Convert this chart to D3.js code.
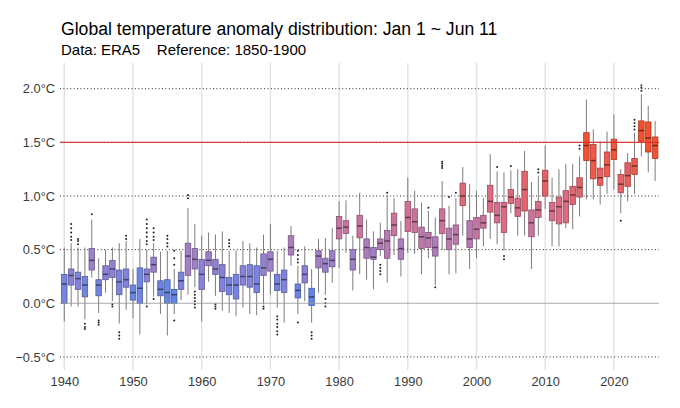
<!DOCTYPE html>
<html>
<head>
<meta charset="utf-8">
<script src="https://cdn.jsdelivr.net/npm/d3@7"></script>
<style>
  body { margin: 0; background: #fff; }
  svg { font-family: "Liberation Sans", Arial, sans-serif; }
</style>
</head>
<body>
<svg id="chart" width="680" height="408"></svg>
<script>
// one box per year, Jan 1 ~ Jun 11 daily anomalies (deg C vs 1850-1900)
const years = d3.range(1940, 2027);

const whiskerLow = [
  -0.17, -0.03, -0.03, -0.15, 0.24, -0.09, 0.10, 0.02, -0.19, -0.06,
  -0.14, -0.29, -0.01, 0.06, -0.10, -0.30, -0.10, 0.03, 0.08, 0.15,
  -0.17, 0.20, 0.07, -0.07, -0.09, -0.12, -0.04, -0.10, -0.11, -0.01,
  0.08, -0.04, -0.18, 0.35, -0.10, 0.02, -0.18, 0.10, 0.08, 0.19,
  0.33, 0.47, 0.12, 0.27, 0.22, 0.13, 0.44, 0.19, 0.45, 0.25,
  0.47, 0.46, 0.27, 0.42, 0.17, 0.50, 0.27, 0.28, 0.63, 0.32,
  0.42, 0.53, 0.60, 0.55, 0.49, 0.84, 0.63, 0.63, 0.32, 0.63,
  0.88, 0.53, 0.53, 0.70, 0.69, 0.81, 0.97, 0.97, 0.92, 1.02,
  1.06, 0.84, 0.95, 1.02, 1.37, 1.22, 1.14
];
const q1 = [
  0.00, 0.17, 0.13, 0.06, 0.31, 0.07, 0.22, 0.24, 0.08, 0.15,
  0.03, 0.00, 0.20, 0.29, 0.07, 0.00, 0.00, 0.13, 0.26, 0.32,
  0.13, 0.35, 0.27, 0.11, 0.08, 0.04, 0.17, 0.15, 0.10, 0.26,
  0.30, 0.12, 0.10, 0.45, 0.05, 0.19, -0.02, 0.33, 0.29, 0.34,
  0.60, 0.65, 0.31, 0.61, 0.42, 0.41, 0.50, 0.42, 0.63, 0.41,
  0.67, 0.66, 0.51, 0.52, 0.44, 0.65, 0.50, 0.55, 0.91, 0.52,
  0.60, 0.70, 0.85, 0.75, 0.66, 0.93, 0.81, 0.86, 0.62, 0.80,
  1.00, 0.77, 0.74, 0.75, 0.92, 0.99, 1.33, 1.16, 1.10, 1.18,
  1.34, 1.03, 1.09, 1.20, 1.51, 1.41, 1.35
];
const median = [
  0.18, 0.26, 0.23, 0.17, 0.40, 0.17, 0.27, 0.32, 0.20, 0.22,
  0.10, 0.14, 0.27, 0.36, 0.13, 0.10, 0.08, 0.21, 0.44, 0.41,
  0.27, 0.40, 0.32, 0.24, 0.17, 0.17, 0.25, 0.25, 0.18, 0.33,
  0.41, 0.18, 0.22, 0.52, 0.12, 0.27, 0.06, 0.44, 0.37, 0.40,
  0.70, 0.71, 0.41, 0.72, 0.52, 0.43, 0.56, 0.58, 0.73, 0.51,
  0.80, 0.76, 0.62, 0.61, 0.52, 0.77, 0.60, 0.64, 1.00, 0.60,
  0.69, 0.75, 0.95, 0.82, 0.90, 0.99, 0.89, 1.06, 0.75, 0.87,
  1.14, 0.86, 0.90, 0.95, 1.01, 1.08, 1.47, 1.33, 1.17, 1.29,
  1.43, 1.11, 1.19, 1.28, 1.61, 1.54, 1.47
];
const q3 = [
  0.27, 0.32, 0.29, 0.25, 0.51, 0.22, 0.35, 0.40, 0.31, 0.32,
  0.17, 0.33, 0.32, 0.43, 0.21, 0.22, 0.13, 0.29, 0.56, 0.51,
  0.41, 0.48, 0.41, 0.36, 0.24, 0.27, 0.35, 0.36, 0.35, 0.46,
  0.48, 0.27, 0.31, 0.63, 0.18, 0.35, 0.14, 0.49, 0.42, 0.49,
  0.81, 0.77, 0.50, 0.82, 0.60, 0.52, 0.60, 0.68, 0.84, 0.60,
  0.95, 0.88, 0.71, 0.66, 0.62, 0.88, 0.70, 0.73, 1.12, 0.77,
  0.80, 0.82, 1.10, 0.94, 0.94, 1.06, 0.98, 1.23, 0.87, 0.95,
  1.24, 0.94, 0.99, 1.05, 1.09, 1.17, 1.59, 1.48, 1.26, 1.41,
  1.53, 1.20, 1.31, 1.35, 1.70, 1.69, 1.55
];
const whiskerHigh = [
  0.52, 0.56, 0.52, 0.52, 0.78, 0.42, 0.50, 0.52, 0.56, 0.58,
  0.32, 0.60, 0.50, 0.56, 0.48, 0.49, 0.32, 0.49, 0.89, 0.74,
  0.63, 0.66, 0.64, 0.67, 0.49, 0.49, 0.58, 0.56, 0.52, 0.64,
  0.74, 0.49, 0.52, 0.72, 0.35, 0.53, 0.32, 0.60, 0.61, 0.70,
  0.95, 0.96, 0.63, 1.03, 0.78, 0.67, 0.75, 1.01, 0.98, 0.77,
  1.17, 1.05, 0.94, 0.86, 0.80, 1.14, 0.91, 0.98, 1.27, 1.11,
  1.05, 0.98, 1.39, 1.23, 1.22, 1.24, 1.25, 1.42, 1.13, 1.19,
  1.47, 1.17, 1.25, 1.30, 1.30, 1.37, 1.90, 1.62, 1.51, 1.60,
  1.76, 1.25, 1.40, 1.59, 1.95, 1.84, 1.70
];
const outliers = {
  1941: [0.59, 0.62, 0.66, 0.70, 0.74],
  1942: [0.55, 0.58, 0.60],
  1943: [-0.19, -0.22, -0.24],
  1944: [0.83],
  1945: [-0.16, -0.18, -0.20],
  1947: [-0.01, -0.03],
  1948: [-0.27, -0.30, -0.33],
  1949: [0.60, 0.63],
  1952: [0.55, 0.58, 0.62, 0.66, 0.70, 0.74, 0.78, -0.03],
  1953: [0.59, 0.62, 0.66, 0.70, 0.04],
  1955: [0.53, 0.56, 0.60, 0.63],
  1956: [0.36, 0.42, 0.49, -0.16],
  1958: [0.98, 1.01],
  1959: [0.11, 0.08, 0.05, 0.02, -0.01, -0.04],
  1962: [-0.01, -0.03, -0.05],
  1964: [0.53, 0.56, 0.59],
  1969: [-0.03, -0.05],
  1971: [-0.12, -0.15, -0.19, -0.22, -0.26, -0.29],
  1974: [0.38, 0.41, 0.45, 0.49, -0.18],
  1976: [-0.27, -0.30, -0.33],
  1978: [0.04, 0.00, -0.03],
  1986: [0.36, 0.33, 0.30, 0.27],
  1987: [1.03],
  1993: [0.89],
  1994: [0.15],
  1995: [1.26, 1.28, 1.30, 1.32],
  1996: [0.99],
  1997: [1.03],
  2003: [1.27],
  2004: [0.44, 0.41],
  2005: [1.28],
  2009: [1.22, 1.25],
  2015: [1.44, 1.47],
  2021: [0.77],
  2023: [1.62, 1.65, 1.68, 1.71],
  2024: [1.98, 2.01, 2.03]
};
const yTicks = [-0.5, 0, 0.5, 1.0, 1.5, 2.0];
const xTicks = [1940, 1950, 1960, 1970, 1980, 1990, 2000, 2010, 2020];

const boxes = years.map((yr, i) => ({
  year: yr, lo: whiskerLow[i], q1: q1[i], med: median[i], q3: q3[i], hi: whiskerHigh[i],
  out: outliers[yr] || []
}));

const svg = d3.select("#chart");
const panel = {left: 60, right: 659, top: 63, bottom: 370};

const x = d3.scaleLinear().domain([1940, 2020]).range([64.3, 613.9]);
const y = d3.scaleLinear().domain([0, 2]).range([303.3, 88.7]);
const step = x(1941) - x(1940);
const bw = step * 0.8;

const fill = d3.scaleLinear()
  .domain([0.08, 0.3, 0.45, 0.85, 1.5])
  .range(["#6286e8", "#8e81d6", "#a47fc4", "#d66f8d", "#f4502e"])
  .interpolate(d3.interpolateLab)
  .clamp(true);

// titles
svg.append("text").attr("x", 61).attr("y", 35)
  .attr("font-size", 17.6).attr("fill", "#000")
  .text("Global temperature anomaly distribution: Jan 1 ~ Jun 11");
svg.append("text").attr("x", 61).attr("y", 55)
  .attr("font-size", 15).attr("fill", "#000")
  .style("white-space", "pre")
  .text("Data: ERA5    Reference: 1850-1900");

// grid
const grid = svg.append("g");
grid.selectAll("line.v").data(xTicks).join("line")
  .attr("x1", d => x(d)).attr("x2", d => x(d))
  .attr("y1", panel.top).attr("y2", panel.bottom)
  .attr("stroke", "#e2e2e2").attr("stroke-width", 1.4);
grid.selectAll("line.h").data(yTicks.filter(d => d !== 0)).join("line")
  .attr("x1", panel.left).attr("x2", panel.right)
  .attr("y1", d => y(d)).attr("y2", d => y(d))
  .attr("stroke", "#222").attr("stroke-width", 1)
  .attr("stroke-dasharray", "1,2.4");

// axes
const yAxis = svg.append("g")
  .attr("transform", `translate(${panel.left},0)`)
  .call(d3.axisLeft(y).tickValues(yTicks)
    .tickFormat(d => d3.format(".1f")(d) + "°C")
    .tickSize(0).tickPadding(5));
const xAxis = svg.append("g")
  .attr("transform", `translate(0,${panel.bottom})`)
  .call(d3.axisBottom(x).tickValues(xTicks).tickFormat(d3.format("d"))
    .tickSize(0).tickPadding(7));
[yAxis, xAxis].forEach(a => {
  a.select(".domain").remove();
  a.selectAll("text").attr("font-size", 12.8).attr("fill", "#3a3a3a")
    .attr("font-family", "'Liberation Sans', Arial, sans-serif");
});

// boxplots
const g = svg.append("g");
const box = g.selectAll("g.box").data(boxes).join("g").attr("class", "box");

box.append("line")
  .attr("x1", d => x(d.year)).attr("x2", d => x(d.year))
  .attr("y1", d => y(d.lo)).attr("y2", d => y(d.hi))
  .attr("stroke", "#7d7d7d").attr("stroke-width", 1);

box.append("rect")
  .attr("x", d => x(d.year) - bw / 2)
  .attr("width", bw)
  .attr("y", d => y(d.q3))
  .attr("height", d => y(d.q1) - y(d.q3))
  .attr("fill", d => fill(d.med))
  .attr("stroke", d => d3.color(fill(d.med)).darker(1))
  .attr("stroke-width", 0.8);

box.append("line")
  .attr("x1", d => x(d.year) - bw / 2).attr("x2", d => x(d.year) + bw / 2)
  .attr("y1", d => y(d.med)).attr("y2", d => y(d.med))
  .attr("stroke", d => d3.color(fill(d.med)).darker(2))
  .attr("stroke-width", 1.5);

box.selectAll("circle").data(d => d.out.map(v => ({year: d.year, v}))).join("circle")
  .attr("cx", d => x(d.year)).attr("cy", d => y(d.v))
  .attr("r", 1).attr("fill", "#222");

// reference lines
svg.append("line")
  .attr("x1", panel.left).attr("x2", panel.right)
  .attr("y1", y(0)).attr("y2", y(0))
  .attr("stroke", "#9a9a9a").attr("stroke-width", 1.1).attr("opacity", 0.85);
svg.append("line")
  .attr("x1", panel.left).attr("x2", panel.right)
  .attr("y1", y(1.5)).attr("y2", y(1.5))
  .attr("stroke", "#e0302a").attr("stroke-width", 1.1).attr("opacity", 0.9);
</script>
</body>
</html>
